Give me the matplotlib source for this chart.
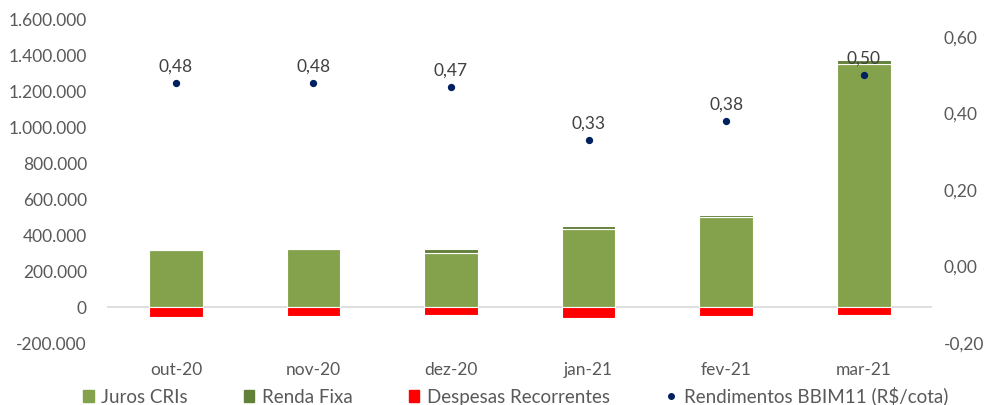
import matplotlib
matplotlib.use('Agg')
import matplotlib.pyplot as plt
from matplotlib.ticker import FuncFormatter, FixedLocator
from matplotlib.lines import Line2D
from matplotlib.patches import Patch
import numpy as np

# dados
meses = ['out-20', 'nov-20', 'dez-20', 'jan-21', 'fev-21', 'mar-21']
juros_cris = [318000, 322000, 302000, 436000, 501000, 1352000]
renda_fixa = [0, 0, 20000, 15000, 10000, 20000]
despesas = [-54000, -52000, -47000, -61000, -52000, -45000]
rendimentos = [0.48, 0.48, 0.47, 0.33, 0.38, 0.50]

COR_JUROS = '#84A24C'
COR_RF = '#62803A'
COR_DESP = '#FF0000'
COR_PONTO = '#002060'
COR_TEXTO = '#595959'

plt.rcParams['font.family'] = ['Lato', 'DejaVu Sans']

fig = plt.figure(figsize=(9.92, 4.05), dpi=100)
ax = fig.add_axes([0.108, 0.153, 0.832, 0.800])
ax2 = ax.twinx()

x = np.arange(len(meses))
w = 0.39
ax.bar(x, juros_cris, w, color=COR_JUROS, edgecolor='white', linewidth=0.8, zorder=2)
ax.bar(x, renda_fixa, w, bottom=juros_cris, color=COR_RF, edgecolor='white', linewidth=0.8, zorder=2)
ax.bar(x, despesas, w, color=COR_DESP, edgecolor='white', linewidth=0.8, zorder=2)
ax.axhline(0, color='#D9D9D9', lw=1.2, zorder=1)

ax.set_xlim(-0.5, len(meses) - 0.5)
ax.set_ylim(-200000, 1600000)
ax.yaxis.set_major_locator(FixedLocator(np.arange(-200000, 1600001, 200000)))
ax.yaxis.set_major_formatter(FuncFormatter(lambda v, p: f'{v:,.0f}'.replace(',', '.')))
ax.set_xticks(x)
ax.set_xticklabels(meses)

ax2.scatter(x, rendimentos, s=18, color=COR_PONTO, zorder=3)
for xi, r in zip(x, rendimentos):
    ax2.annotate(f'{r:.2f}'.replace('.', ','), (xi, r), xytext=(0, 6),
                 textcoords='offset points', ha='center', va='bottom',
                 fontsize=12.5, color='#404040')
ax2.set_ylim(-0.2, 0.647)
ax2.yaxis.set_major_locator(FixedLocator([-0.2, 0.0, 0.2, 0.4, 0.6]))
ax2.yaxis.set_major_formatter(FuncFormatter(lambda v, p: f'{v:.2f}'.replace('.', ',')))

for a in (ax, ax2):
    for s in a.spines.values():
        s.set_visible(False)
    a.tick_params(length=0, labelsize=12.5, labelcolor=COR_TEXTO)
ax.tick_params(axis='y', pad=14.5)
ax.tick_params(axis='x', pad=14)
ax2.tick_params(axis='y', pad=8)

handles = [
    Patch(color=COR_JUROS, label='Juros CRIs'),
    Patch(color=COR_RF, label='Renda Fixa'),
    Patch(color=COR_DESP, label='Despesas Recorrentes'),
    Line2D([], [], marker='o', ls='', color=COR_PONTO, markersize=4,
           label='Rendimentos BBIM11 (R$/cota)'),
]
leg = fig.legend(handles=handles, loc='center', ncol=4, bbox_to_anchor=(0.52, 0.022),
                 frameon=False, fontsize=13.5, handlelength=0.55, handleheight=0.55,
                 handletextpad=0.4, columnspacing=3.0)
for t in leg.get_texts():
    t.set_color(COR_TEXTO)

fig.savefig('out.png', dpi=100)
